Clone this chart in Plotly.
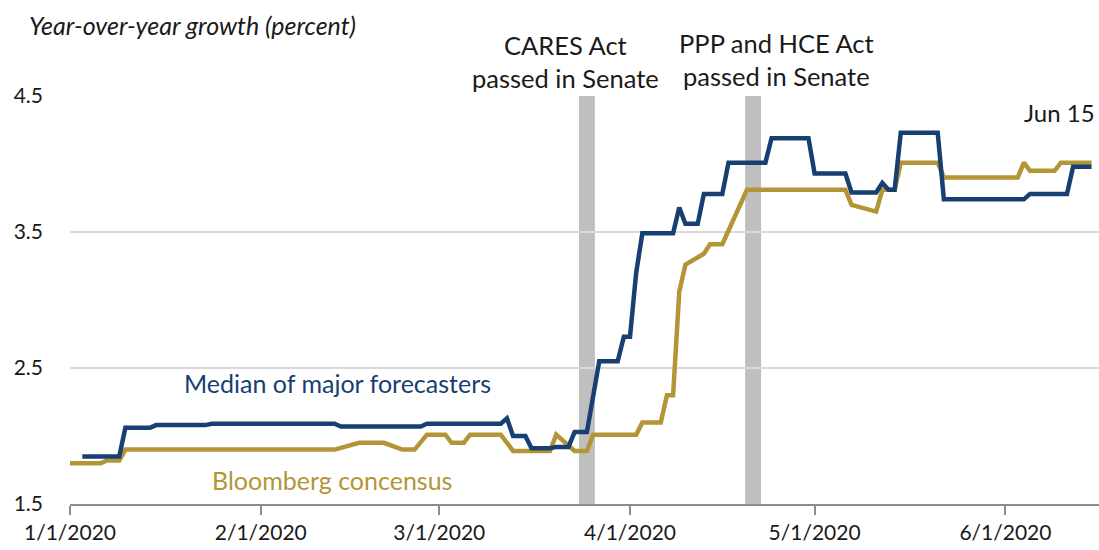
import plotly.graph_objects as go
import pandas as pd

# ---- data ----
median_dates = ["2020-01-03", "2020-01-09", "2020-01-10", "2020-01-14", "2020-01-15", "2020-01-23",
                "2020-01-24", "2020-02-13", "2020-02-14", "2020-02-27", "2020-02-28", "2020-03-11",
                "2020-03-12", "2020-03-13", "2020-03-15", "2020-03-16", "2020-03-19", "2020-03-20",
                "2020-03-22", "2020-03-23", "2020-03-25", "2020-03-27", "2020-03-30", "2020-03-31",
                "2020-04-01", "2020-04-02", "2020-04-03", "2020-04-08", "2020-04-09", "2020-04-10",
                "2020-04-12", "2020-04-13", "2020-04-16", "2020-04-17", "2020-04-23", "2020-04-24",
                "2020-04-30", "2020-05-01", "2020-05-06", "2020-05-07", "2020-05-11", "2020-05-12",
                "2020-05-13", "2020-05-14", "2020-05-15", "2020-05-21", "2020-05-22", "2020-06-04",
                "2020-06-05", "2020-06-11", "2020-06-12", "2020-06-15"]
median_values = [1.85, 1.85, 2.06, 2.06, 2.08, 2.08,
                 2.09, 2.09, 2.07, 2.07, 2.09, 2.09,
                 2.13, 2.00, 2.00, 1.91, 1.91, 1.92,
                 1.92, 2.03, 2.03, 2.55, 2.55, 2.73,
                 2.73, 3.20, 3.49, 3.49, 3.68, 3.56,
                 3.56, 3.78, 3.78, 4.01, 4.01, 4.19,
                 4.19, 3.93, 3.93, 3.79, 3.79, 3.86,
                 3.81, 3.81, 4.23, 4.23, 3.74, 3.74,
                 3.78, 3.78, 3.98, 3.98]

bloomberg_dates = ["2020-01-01", "2020-01-06", "2020-01-07", "2020-01-09", "2020-01-10", "2020-02-13",
                   "2020-02-17", "2020-02-21", "2020-02-24", "2020-02-26", "2020-02-28", "2020-03-02",
                   "2020-03-03", "2020-03-05", "2020-03-06", "2020-03-11", "2020-03-13", "2020-03-19",
                   "2020-03-20", "2020-03-23", "2020-03-25", "2020-03-26", "2020-04-02", "2020-04-03",
                   "2020-04-06", "2020-04-07", "2020-04-08", "2020-04-09", "2020-04-10", "2020-04-13",
                   "2020-04-14", "2020-04-16", "2020-04-20", "2020-05-06", "2020-05-07", "2020-05-11",
                   "2020-05-12", "2020-05-14", "2020-05-15", "2020-05-21", "2020-05-22", "2020-06-03",
                   "2020-06-04", "2020-06-05", "2020-06-09", "2020-06-10", "2020-06-15"]
bloomberg_values = [1.80, 1.80, 1.82, 1.82, 1.90, 1.90,
                    1.95, 1.95, 1.90, 1.90, 2.01, 2.01,
                    1.95, 1.95, 2.01, 2.01, 1.89, 1.89,
                    2.01, 1.89, 1.89, 2.01, 2.01, 2.10,
                    2.10, 2.30, 2.30, 3.06, 3.26, 3.34,
                    3.41, 3.41, 3.81, 3.81, 3.70, 3.65,
                    3.81, 3.81, 4.01, 4.01, 3.90, 3.90,
                    4.01, 3.95, 3.95, 4.01, 4.01]

event_dates = ["2020-03-25", "2020-04-21"]
event_labels = ["CARES Act<br>passed in Senate", "PPP and HCE Act<br>passed in Senate"]

x_tick_dates = ["2020-01-01", "2020-02-01", "2020-03-01", "2020-04-01", "2020-05-01", "2020-06-01"]
x_tick_labels = ["1/1/2020", "2/1/2020", "3/1/2020", "4/1/2020", "5/1/2020", "6/1/2020"]
y_tick_values = [1.5, 2.5, 3.5, 4.5]
y_tick_labels = ["1.5", "2.5", "3.5", "4.5"]

# ---- style ----
W, H = 1099, 550
ML, MR, MT, MB = 70, 0, 96, 46
PW, PH = W - ML - MR, H - MT - MB
BLUE = "#173f71"
GOLD = "#b39536"
TXT = "#1a1a1a"
FONT = "Lato"


def px(x):
    return (x - ML) / PW


def py(y):
    return (H - MB - y) / PH


fig = go.Figure()

# event bars
for d in event_dates:
    c = pd.Timestamp(d)
    fig.add_shape(type="rect", xref="x", yref="y",
                  x0=c - pd.Timedelta(hours=31), x1=c + pd.Timedelta(hours=31),
                  y0=1.485, y1=4.5, fillcolor="#bfbfbf", line_width=0, layer="below")

fig.add_trace(go.Scatter(x=bloomberg_dates, y=bloomberg_values, mode="lines",
                         line=dict(color=GOLD, width=4.5), name="Bloomberg concensus",
                         showlegend=False))
fig.add_trace(go.Scatter(x=median_dates, y=median_values, mode="lines",
                         line=dict(color=BLUE, width=4.5), name="Median of major forecasters",
                         showlegend=False))

annotations = [
    dict(text="<i>Year-over-year growth (percent)</i>", x=px(27), y=py(25), xanchor="left",
         yanchor="middle", font=dict(size=25, color=TXT)),
    dict(text=event_labels[0], x=px(565), y=py(61), xanchor="center", yanchor="middle",
         font=dict(size=25.5, color=TXT)),
    dict(text=event_labels[1], x=px(776), y=py(59), xanchor="center", yanchor="middle",
         font=dict(size=25.5, color=TXT)),
    dict(text="Jun 15", x=px(1097), y=py(113), xanchor="right", yanchor="middle",
         font=dict(size=24, color=TXT)),
    dict(text="Median of major forecasters", x=px(182), y=py(383), xanchor="left",
         yanchor="middle", font=dict(size=25, color=BLUE)),
    dict(text="Bloomberg concensus", x=px(210), y=py(480), xanchor="left",
         yanchor="middle", font=dict(size=25, color=GOLD)),
]
for a in annotations:
    a.update(xref="paper", yref="paper", showarrow=False)

fig.update_layout(
    width=W, height=H,
    margin=dict(l=ML, r=MR, t=MT, b=MB, pad=0, autoexpand=False),
    paper_bgcolor="white", plot_bgcolor="white",
    font=dict(family=FONT, size=21, color=TXT),
    annotations=annotations,
    showlegend=False,
)
fig.update_xaxes(
    range=[pd.Timestamp("2020-01-01"), pd.Timestamp("2020-06-16 05:00")],
    tickvals=x_tick_dates, ticktext=x_tick_labels,
    showgrid=False, zeroline=False, automargin=False,
    showline=True, linecolor="#8c8c8c", linewidth=2,
    ticks="outside", ticklen=9, tickwidth=1.5, tickcolor="#8c8c8c",
    tickfont=dict(size=21, family=FONT, color=TXT),
)
fig.update_yaxes(
    range=[1.5, 4.5],
    tickvals=y_tick_values, ticktext=y_tick_labels,
    showgrid=True, gridcolor="#d9d9d9", gridwidth=1.5,
    zeroline=False, showline=False, ticks="", automargin=False,
    ticklabelstandoff=26,
    tickfont=dict(size=21, family=FONT, color=TXT),
)

fig.write_html("out.html", config={"displayModeBar": False},
               post_script="document.body.style.margin='0';document.body.style.padding='0';")
